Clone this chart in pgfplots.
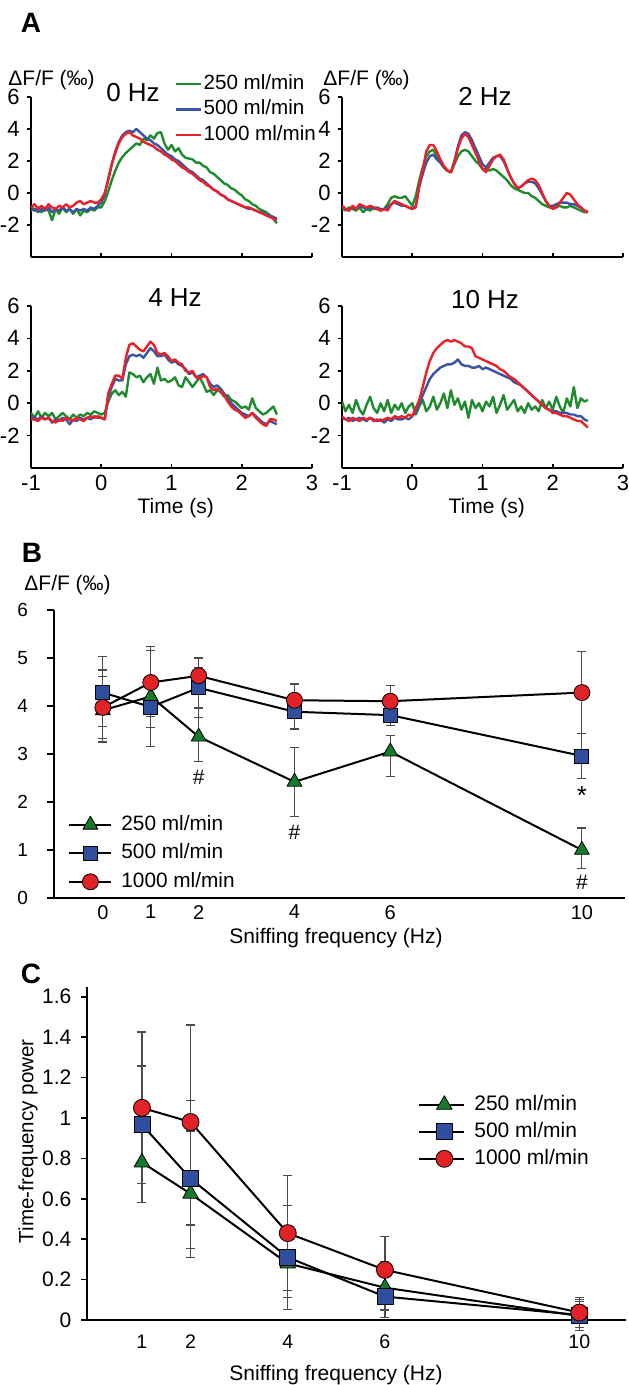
\documentclass[border=0pt]{standalone}
\usepackage{fontspec}
\setmainfont{Liberation Sans}
\usepackage{pgfplots}
\pgfplotsset{compat=1.18}
\usepackage{pgfplotstable}

\definecolor{tg}{HTML}{1E8C2E}
\definecolor{tb}{HTML}{3A54A4}
\definecolor{tr}{HTML}{EC2027}
\definecolor{mg}{HTML}{157A2C}
\definecolor{mb}{HTML}{2F4F9E}
\definecolor{mr}{HTML}{E32228}
\newcommand{\fs}[1]{\fontsize{#1}{#1}\selectfont}

% ---------- Panel A traces (0, 2, 4, 10 Hz) ----------
\pgfplotstableread{
t g b r
-1.00 -0.8 -1.1 -0.9
-0.95 -1.1 -1.0 -0.7
-0.90 -0.9 -1.2 -1.0
-0.85 -1.2 -1.0 -0.8
-0.80 -1.0 -1.1 -1.0
-0.75 -1.1 -0.9 -0.7
-0.70 -1.7 -1.2 -0.9
-0.65 -1.0 -1.0 -1.0
-0.60 -1.3 -1.1 -0.8
-0.55 -0.9 -0.9 -0.9
-0.50 -1.2 -1.1 -0.7
-0.45 -1.0 -1.0 -0.9
-0.40 -1.3 -1.2 -0.8
-0.35 -1.0 -1.0 -0.6
-0.30 -1.4 -1.1 -0.5
-0.25 -1.1 -1.0 -0.7
-0.20 -1.2 -1.1 -0.6
-0.15 -1.0 -0.9 -0.5
-0.10 -1.1 -1.0 -0.6
-0.05 -0.9 -0.8 -0.6
0.00 -0.9 -0.6 -0.4
0.05 -0.5 -0.1 0.0
0.10 0.1 0.9 0.8
0.15 0.8 1.8 1.8
0.20 1.4 2.6 2.5
0.25 1.9 3.2 3.1
0.30 2.25 3.6 3.5
0.35 2.5 3.8 3.7
0.40 2.7 3.9 3.8
0.45 2.9 3.8 3.6
0.50 3.1 4.0 3.5
0.55 3.0 3.8 3.4
0.60 3.4 3.6 3.2
0.65 3.3 3.4 3.1
0.70 3.6 3.3 3.0
0.75 3.4 3.1 2.9
0.80 3.75 3.0 2.7
0.85 3.8 2.8 2.6
0.90 3.1 2.6 2.4
0.95 2.7 2.4 2.3
1.00 3.0 2.3 2.1
1.05 2.6 2.1 2.0
1.10 2.8 2.0 1.8
1.15 2.4 1.8 1.6
1.20 2.2 1.6 1.5
1.25 2.15 1.4 1.3
1.30 2.1 1.3 1.2
1.35 1.9 1.1 1.0
1.40 1.9 0.9 0.8
1.45 1.7 0.8 0.7
1.50 1.6 0.6 0.5
1.55 1.3 0.4 0.4
1.60 1.2 0.2 0.2
1.65 1.0 0.1 0.1
1.70 0.8 -0.1 -0.1
1.75 0.6 -0.2 -0.2
1.80 0.5 -0.4 -0.4
1.85 0.3 -0.5 -0.5
1.90 0.2 -0.6 -0.6
1.95 0.0 -0.7 -0.7
2.00 -0.15 -0.8 -0.8
2.05 -0.4 -0.9 -0.9
2.10 -0.5 -1.0 -0.9
2.15 -0.7 -1.0 -1.0
2.20 -0.8 -1.1 -1.1
2.25 -1.0 -1.2 -1.2
2.30 -1.1 -1.2 -1.3
2.35 -1.2 -1.4 -1.4
2.40 -1.4 -1.4 -1.5
2.45 -1.6 -1.5 -1.6
2.50 -1.9 -1.6 -1.7
}\tabA

\pgfplotstableread{
t g b r
-1.00 -0.9 -0.8 -0.8
-0.95 -1.1 -1.0 -1.0
-0.90 -0.9 -1.1 -1.1
-0.85 -1.0 -0.9 -0.8
-0.80 -1.1 -1.0 -1.0
-0.75 -0.9 -0.8 -0.7
-0.70 -1.2 -0.9 -0.8
-0.65 -1.0 -1.0 -0.9
-0.60 -1.1 -0.9 -0.8
-0.55 -0.9 -1.0 -0.9
-0.50 -1.0 -0.9 -1.0
-0.45 -1.1 -1.0 -1.1
-0.40 -1.0 -1.0 -1.0
-0.35 -0.7 -0.9 -1.1
-0.30 -0.3 -0.7 -0.7
-0.25 -0.2 -0.6 -0.5
-0.20 -0.3 -0.7 -0.6
-0.15 -0.3 -0.8 -0.7
-0.10 -0.2 -0.8 -0.8
-0.05 -0.5 -0.9 -0.9
0.00 -0.8 -1.0 -1.0
0.05 -0.2 -0.8 -0.9
0.10 0.8 0.4 0.5
0.15 1.6 1.2 1.5
0.20 2.3 1.9 2.6
0.25 2.6 2.3 3.0
0.30 2.7 2.4 3.0
0.35 2.3 2.1 2.6
0.40 1.9 1.9 2.1
0.45 1.6 1.6 1.7
0.50 1.4 1.4 1.4
0.55 1.3 1.3 1.3
0.60 1.8 2.0 1.9
0.65 2.3 2.9 2.8
0.70 2.6 3.6 3.4
0.75 2.7 3.8 3.7
0.80 2.6 3.7 3.5
0.85 2.3 3.3 3.0
0.90 2.0 2.8 2.5
0.95 1.8 2.3 2.0
1.00 1.5 1.8 1.5
1.05 1.5 1.6 1.3
1.10 1.4 1.9 1.7
1.15 1.5 2.2 2.1
1.20 1.4 2.3 2.3
1.25 1.2 2.3 2.4
1.30 1.0 2.0 2.1
1.35 0.8 1.5 1.5
1.40 0.5 1.0 1.0
1.45 0.3 0.6 0.6
1.50 0.2 0.3 0.3
1.55 0.1 0.4 0.4
1.60 0.0 0.6 0.6
1.65 0.0 0.7 0.8
1.70 -0.2 0.7 0.9
1.75 -0.3 0.6 0.8
1.80 -0.5 0.3 0.5
1.85 -0.7 -0.1 0.0
1.90 -0.8 -0.5 -0.5
1.95 -0.9 -0.8 -0.8
2.00 -0.9 -0.8 -1.0
2.05 -0.9 -0.7 -0.9
2.10 -0.8 -0.6 -0.6
2.15 -0.9 -0.6 -0.3
2.20 -0.9 -0.6 0.0
2.25 -0.8 -0.7 -0.1
2.30 -0.9 -0.7 -0.4
2.35 -1.0 -0.8 -0.7
2.40 -1.1 -0.9 -0.9
2.45 -1.2 -1.1 -1.1
2.50 -1.2 -1.2 -1.2
}\tabB

\pgfplotstableread{
t g b r
-1.00 -0.6 -0.8 -1.0
-0.95 -0.9 -0.9 -1.0
-0.90 -0.5 -1.0 -1.1
-0.85 -0.9 -0.8 -0.9
-0.80 -0.6 -1.0 -1.0
-0.75 -0.8 -0.9 -0.9
-0.70 -0.6 -1.2 -1.1
-0.65 -1.0 -1.0 -1.2
-0.60 -0.8 -1.1 -1.0
-0.55 -0.6 -0.9 -1.1
-0.50 -0.8 -1.0 -0.9
-0.45 -1.0 -1.3 -1.0
-0.40 -0.7 -1.0 -1.1
-0.35 -0.9 -1.1 -0.9
-0.30 -0.7 -0.9 -1.0
-0.25 -0.8 -1.0 -1.1
-0.20 -0.6 -0.9 -0.9
-0.15 -0.7 -1.0 -0.8
-0.10 -0.5 -0.8 -0.9
-0.05 -0.6 -0.9 -0.8
0.00 -0.7 -0.9 -0.9
0.05 -0.6 -1.0 -1.0
0.10 0.1 0.4 0.6
0.15 0.6 1.0 1.2
0.20 0.8 1.5 1.7
0.25 0.5 1.4 1.7
0.30 0.7 1.4 1.5
0.35 0.4 2.4 2.8
0.40 1.9 2.9 3.6
0.45 1.8 3.0 3.7
0.50 1.6 2.9 3.5
0.55 1.7 3.0 3.3
0.60 1.3 2.8 3.2
0.65 1.6 3.1 3.5
0.70 1.8 3.4 3.8
0.75 1.2 3.2 3.6
0.80 2.2 2.9 3.1
0.85 1.4 2.9 3.0
0.90 1.5 3.0 3.1
0.95 1.3 2.7 2.9
1.00 1.4 2.5 2.6
1.05 1.6 2.6 2.7
1.10 1.1 2.4 2.5
1.15 1.0 2.3 2.4
1.20 1.6 2.1 2.0
1.25 1.3 1.8 1.9
1.30 1.0 1.9 2.0
1.35 1.3 1.6 1.6
1.40 1.6 1.7 1.5
1.45 1.2 1.8 1.7
1.50 0.7 1.6 1.6
1.55 0.8 1.2 1.0
1.60 0.5 1.0 0.8
1.65 0.8 1.1 0.9
1.70 0.7 0.9 0.7
1.75 0.4 0.6 0.5
1.80 0.5 0.3 0.1
1.85 0.2 0.0 -0.2
1.90 0.1 -0.2 -0.4
1.95 -0.1 -0.4 -0.5
2.00 -0.3 -0.6 -0.7
2.05 -0.2 -0.7 -0.9
2.10 -0.4 -0.8 -0.8
2.15 0.3 -0.6 -0.6
2.20 -0.3 -0.8 -0.9
2.25 -0.5 -1.0 -1.1
2.30 -0.7 -1.2 -1.3
2.35 -0.6 -1.3 -1.4
2.40 -0.4 -1.1 -1.0
2.45 -0.2 -1.2 -1.0
2.50 -0.7 -1.3 -1.1
}\tabC

\pgfplotstableread{
t g b r
-1.00 0.1 -0.9 -0.8
-0.95 -0.5 -1.0 -1.0
-0.90 -0.1 -0.9 -1.1
-0.85 -0.6 -1.1 -0.9
-0.80 0.2 -1.0 -1.0
-0.75 -0.4 -0.9 -1.1
-0.70 -0.7 -1.0 -0.9
-0.65 -0.1 -1.1 -1.0
-0.60 0.4 -0.9 -0.9
-0.55 -0.3 -1.0 -1.1
-0.50 -0.6 -1.1 -1.0
-0.45 0.0 -1.0 -1.1
-0.40 -0.5 -1.2 -1.0
-0.35 0.2 -1.0 -0.9
-0.30 -0.6 -1.1 -1.0
-0.25 -0.1 -0.9 -0.8
-0.20 -0.4 -1.0 -0.9
-0.15 0.0 -1.0 -0.8
-0.10 -0.6 -0.9 -0.9
-0.05 -0.2 -1.0 -0.7
0.00 0.0 -0.8 -0.8
0.05 -0.7 -0.5 -0.3
0.10 -0.2 -0.1 0.2
0.15 0.2 0.5 1.0
0.20 -0.5 1.0 1.9
0.25 -0.2 1.5 2.6
0.30 0.4 1.8 3.1
0.35 -0.4 2.0 3.4
0.40 0.0 2.2 3.6
0.45 0.6 2.3 3.8
0.50 -0.3 2.4 3.9
0.55 0.8 2.4 3.8
0.60 -0.1 2.5 3.9
0.65 0.3 2.7 3.8
0.70 -0.4 2.4 3.7
0.75 0.1 2.3 3.5
0.80 -0.9 2.3 3.5
0.85 0.2 2.2 3.4
0.90 -0.3 2.2 2.9
0.95 0.0 2.3 2.8
1.00 -0.5 2.1 2.7
1.05 0.1 2.2 2.6
1.10 -0.2 2.1 2.5
1.15 0.4 2.0 2.4
1.20 -0.6 1.9 2.3
1.25 -0.1 1.8 2.1
1.30 0.5 1.7 2.0
1.35 -0.4 1.6 1.8
1.40 -0.1 1.5 1.6
1.45 0.2 1.3 1.5
1.50 -0.5 1.2 1.3
1.55 -0.2 1.1 1.1
1.60 -0.6 0.9 0.9
1.65 0.0 0.7 0.7
1.70 -0.4 0.5 0.5
1.75 -0.2 0.3 0.3
1.80 -0.5 0.1 0.1
1.85 0.2 -0.1 -0.1
1.90 -0.3 -0.3 -0.3
1.95 0.1 -0.4 -0.4
2.00 -0.4 -0.5 -0.6
2.05 0.4 -0.5 -0.6
2.10 -0.2 -0.6 -0.7
2.15 -0.6 -0.6 -0.8
2.20 0.3 -0.6 -0.8
2.25 -0.2 -0.7 -0.9
2.30 1.0 -0.7 -1.0
2.35 -0.3 -0.8 -1.1
2.40 0.3 -0.8 -1.1
2.45 0.1 -1.0 -1.3
2.50 0.2 -1.1 -1.5
}\tabD

% ---------- Panel B ----------
\pgfplotstableread{
x y ep em
0 3.91 0.70 0.59
1 4.20 0.95 1.05
2 3.36 0.60 0.52
4 2.42 0.71 0.73
6 3.05 0.33 0.52
10 1.00 0.46 0.38
}\Bg
\pgfplotstableread{
x y ep em
0 4.28 0.75 0.70
1 3.98 0.45 0.43
2 4.38 0.43 0.62
4 3.88 0.30 0.36
6 3.81 0.30 0.21
10 2.96 0.47 0.47
}\Bb
\pgfplotstableread{
x y ep em
0 3.97 0.78 0.72
1 4.49 0.75 0.71
2 4.63 0.37 0.37
4 4.12 0.34 0.30
6 4.10 0.32 0.30
10 4.28 0.85 0.85
}\Br

% ---------- Panel C ----------
\pgfplotstableread{
x y ep em
1 0.78 0.20 0.197
2 0.625 0.31 0.27
4 0.28 0.17 0.17
6 0.16 0.13 0.11
10 0.02 0.07 0.07
}\Cg
\pgfplotstableread{
x y ep em
1 0.967 0.29 0.29
2 0.70 0.385 0.39
4 0.31 0.255 0.257
6 0.116 0.10 0.104
10 0.025 0.075 0.075
}\Cb
\pgfplotstableread{
x y ep em
1 1.05 0.375 0.375
2 0.98 0.48 0.51
4 0.43 0.286 0.285
6 0.248 0.165 0.165
10 0.037 0.075 0.075
}\Cr

\pgfplotsset{
  /pgf/number format/assume math mode=true,
  trace/.style={
    scale only axis, width=140.5pt,
    xmin=-1, xmax=3, ymin=-4, ymax=6,
    axis lines*=left, axis line style={-, line width=0.9pt},
    xtick={-1,0,1,2,3}, ytick={-2,0,2,4,6},
    xtick align=inside, ytick align=outside,
    major tick length=2.2pt,
    tick style={line width=0.8pt, black},
    tick label style={font=\fs{11}},
  },
  tl/.style={line width=1.2pt, line join=round, no markers},
  ebar/.style={
    /pgfplots/error bars/y dir=both,
    /pgfplots/error bars/y explicit,
    /pgfplots/error bars/error mark=-,
    /pgfplots/error bars/error bar style={line width=0.6pt, draw=black!70},
    /pgfplots/error bars/error mark options={rotate=90, mark size=2.25pt, line width=0.6pt, draw=black!70},
  },
  bl/.style={black, line width=1pt, line join=round, ebar},
}

\begin{document}
\begin{tikzpicture}
\useasboundingbox (0,0) rectangle (314pt,-692.5pt);

% ===== Panel A =====
\node[font=\bfseries\fs{14}] at (15.5pt,-11.25pt) {A};

\begin{axis}[trace, at={(15.5pt,-128.5pt)}, anchor=south west, height=80pt, xticklabels={},
  legend style={at={(axis description cs:0.512,1.15)}, anchor=north west, draw=none, fill=none,
    inner sep=0pt, row sep=2.3pt, font=\fs{10.3}, nodes={inner sep=0.5pt, text height=7.5pt, text depth=2pt}},
  legend cell align=left,
  legend image code/.code={\draw[#1] (0pt,0pt) -- (12.5pt,0pt);},
  legend entries={250 ml/min, 500 ml/min, 1000 ml/min}]
\addplot[tl, tg] table[x=t, y=g] {\tabA};
\addplot[tl, tb] table[x=t, y=b] {\tabA};
\addplot[tl, tr] table[x=t, y=r] {\tabA};
\end{axis}

\begin{axis}[trace, at={(171pt,-128.5pt)}, anchor=south west, height=80pt, xticklabels={}]
\addplot[tl, tg] table[x=t, y=g] {\tabB};
\addplot[tl, tb] table[x=t, y=b] {\tabB};
\addplot[tl, tr] table[x=t, y=r] {\tabB};
\end{axis}

\begin{axis}[trace, at={(15.5pt,-234pt)}, anchor=south west, height=81pt,
  xlabel={Time (s)}, xlabel style={font=\fs{10.5}, at={(axis description cs:0.515,-0.25)}, anchor=center}]
\addplot[tl, tg] table[x=t, y=g] {\tabC};
\addplot[tl, tb] table[x=t, y=b] {\tabC};
\addplot[tl, tr] table[x=t, y=r] {\tabC};
\end{axis}

\begin{axis}[trace, at={(171pt,-234pt)}, anchor=south west, height=81pt,
  xlabel={Time (s)}, xlabel style={font=\fs{10.5}, at={(axis description cs:0.515,-0.25)}, anchor=center}]
\addplot[tl, tg] table[x=t, y=g] {\tabD};
\addplot[tl, tb] table[x=t, y=b] {\tabD};
\addplot[tl, tr] table[x=t, y=r] {\tabD};
\end{axis}

\node[font=\fs{13}] at (66.5pt,-46.5pt) {0 Hz};
\node[font=\fs{13}] at (242.5pt,-48pt) {2 Hz};
\node[font=\fs{13}] at (87.5pt,-149pt) {4 Hz};
\node[font=\fs{13}] at (242.5pt,-150pt) {10 Hz};
\node[font=\fs{10.5}, anchor=west, inner sep=0pt] at (4pt,-40pt) {ΔF/F (‰)};
\node[font=\fs{10.5}, anchor=west, inner sep=0pt] at (161.5pt,-40pt) {ΔF/F (‰)};

% ===== Panel B =====
\node[font=\bfseries\fs{14}] at (16pt,-276.5pt) {B};
\node[font=\fs{10.5}, anchor=west, inner sep=0pt] at (12pt,-292.5pt) {ΔF/F (‰)};

\begin{axis}[scale only axis, at={(27pt,-449pt)}, anchor=south west, width=285.5pt, height=144pt,
  xmin=-1.02, xmax=10.9, ymin=0, ymax=6,
  axis lines*=left, axis line style={-}, y axis line style={line width=1pt}, x axis line style={line width=1.3pt},
  xtick={0,1,2,4,6,10}, ytick={0,1,2,3,4,5,6},
  major x tick style={draw=none}, ytick align=outside, major tick length=3.5pt,
  major y tick style={line width=0.8pt, black},
  x tick label style={font=\fs{10}}, y tick label style={font=\fs{9.5}, xshift=-6pt},
  xlabel={Sniffing frequency (Hz)}, xlabel style={font=\fs{10.5}, at={(axis description cs:0.494,-0.139)}, anchor=center},
  legend style={at={(axis description cs:0.0245,0.292)}, anchor=north west, draw=none, fill=none,
    inner sep=0pt, row sep=3.75pt, font=\fs{10.4}, nodes={inner sep=0.5pt, text height=7.5pt, text depth=2pt},
    /tikz/every odd column/.append style={column sep=4pt}},
  legend cell align=left,
  legend image code/.code={\draw[mark repeat=2,mark phase=2,#1] plot coordinates {(0pt,0pt) (10.5pt,0pt) (21pt,0pt)};}]
\addplot[bl, mark=triangle*, mark size=4.3pt, mark options={fill=mg, draw=black, line width=0.4pt}]
  table[x=x, y=y, y error plus=ep, y error minus=em] {\Bg};
\addlegendentry{250 ml/min}
\addplot[bl, mark=square*, mark size=3.5pt, mark options={fill=mb, draw=black, line width=0.4pt}]
  table[x=x, y=y, y error plus=ep, y error minus=em] {\Bb};
\addlegendentry{500 ml/min}
\addplot[bl, mark=*, mark size=4pt, mark options={fill=mr, draw=black, line width=0.4pt}]
  table[x=x, y=y, y error plus=ep, y error minus=em] {\Br};
\addlegendentry{1000 ml/min}
\node[font=\fs{10.5}] at (axis cs:2,2.52) {\#};
\node[font=\fs{10.5}] at (axis cs:4,1.375) {\#};
\node[font=\fs{13}, anchor=base] at (axis cs:10,1.94) {*};
\node[font=\fs{10.5}] at (axis cs:10,0.33) {\#};
\end{axis}

% ===== Panel C =====
\node[font=\bfseries\fs{14}] at (15.5pt,-487pt) {C};

\begin{axis}[scale only axis, at={(43.5pt,-660pt)}, anchor=south west, width=269.5pt, height=166.5pt,
  xmin=-0.13, xmax=10.96, ymin=0, ymax=1.648, clip=false,
  axis lines*=left, axis line style={-}, y axis line style={line width=1pt}, x axis line style={line width=1.3pt},
  xtick={1,2,4,6,10}, ytick={0,0.2,0.4,0.6,0.8,1,1.2,1.4,1.6},
  yticklabels={0,0.2,0.4,0.6,0.8,1,1.2,1.4,1.6},
  major x tick style={draw=none}, ytick align=outside, major tick length=2.8pt,
  major y tick style={line width=0.8pt, black},
  x tick label style={font=\fs{9.8}, yshift=-4pt}, y tick label style={font=\fs{10.5}, xshift=-1.5pt},
  xlabel={Sniffing frequency (Hz)}, xlabel style={font=\fs{10.5}, at={(axis description cs:0.462,-0.165)}, anchor=center},
  ylabel={Time-frequency power}, ylabel style={font=\fs{10.3}, at={(axis description cs:-0.1095,0.537)}, anchor=center},
  legend style={at={(axis description cs:0.614,0.679)}, anchor=north west, draw=none, fill=none,
    inner sep=0pt, row sep=3pt, font=\fs{10.5}, nodes={inner sep=0.5pt, text height=7.5pt, text depth=2pt},
    /tikz/every odd column/.append style={column sep=4pt}},
  legend cell align=left,
  legend image code/.code={\draw[mark repeat=2,mark phase=2,#1] plot coordinates {(0pt,0pt) (12.5pt,0pt) (22.5pt,0pt)};}]
\addplot[bl, mark=triangle*, mark size=4.5pt, mark options={fill=mg, draw=black, line width=0.4pt}]
  table[x=x, y=y, y error plus=ep, y error minus=em] {\Cg};
\addlegendentry{250 ml/min}
\addplot[bl, mark=square*, mark size=4pt, mark options={fill=mb, draw=black, line width=0.4pt}]
  table[x=x, y=y, y error plus=ep, y error minus=em] {\Cb};
\addlegendentry{500 ml/min}
\addplot[bl, mark=*, mark size=4.25pt, mark options={fill=mr, draw=black, line width=0.4pt}]
  table[x=x, y=y, y error plus=ep, y error minus=em] {\Cr};
\addlegendentry{1000 ml/min}
\end{axis}
\end{tikzpicture}
\end{document}
